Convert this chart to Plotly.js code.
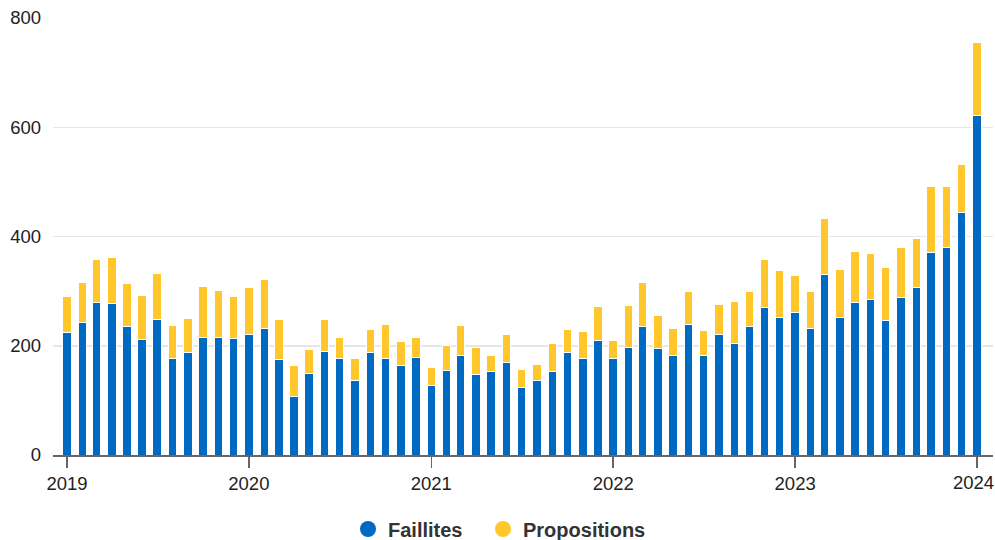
<!DOCTYPE html>
<html>
<head>
<meta charset="utf-8">
<script src="https://cdn.plot.ly/plotly-3.0.1.min.js"></script>
<style>html,body{margin:0;padding:0;background:#fff;}#chart{width:995px;height:540px;}</style>
</head>
<body>
<div id="chart"></div>
<script>
const months = [
  '2019-01-01','2019-02-01','2019-03-01','2019-04-01','2019-05-01','2019-06-01','2019-07-01','2019-08-01','2019-09-01','2019-10-01','2019-11-01','2019-12-01',
  '2020-01-01','2020-02-01','2020-03-01','2020-04-01','2020-05-01','2020-06-01','2020-07-01','2020-08-01','2020-09-01','2020-10-01','2020-11-01','2020-12-01',
  '2021-01-01','2021-02-01','2021-03-01','2021-04-01','2021-05-01','2021-06-01','2021-07-01','2021-08-01','2021-09-01','2021-10-01','2021-11-01','2021-12-01',
  '2022-01-01','2022-02-01','2022-03-01','2022-04-01','2022-05-01','2022-06-01','2022-07-01','2022-08-01','2022-09-01','2022-10-01','2022-11-01','2022-12-01',
  '2023-01-01','2023-02-01','2023-03-01','2023-04-01','2023-05-01','2023-06-01','2023-07-01','2023-08-01','2023-09-01','2023-10-01','2023-11-01','2023-12-01',
  '2024-01-01'
];
const faillites = [
  224,242,280,277,235,211,248,177,187,216,216,213,
  221,231,174,108,150,189,176,136,188,176,164,178,
  128,155,183,147,152,170,123,136,152,187,176,210,
  176,197,236,195,183,239,183,220,205,236,270,252,
  260,231,330,252,279,284,246,288,306,370,380,444,
  621
];
const propositions = [
  66,74,78,84,79,81,85,60,63,92,85,77,
  85,91,74,55,43,59,40,40,42,62,44,38,
  32,45,54,50,31,51,34,30,53,42,50,61,
  34,77,80,60,48,61,45,56,76,64,88,85,
  69,69,103,88,93,85,97,92,90,121,111,88,
  135
];
const seriesNames = ['Faillites','Propositions'];
const colors = ['#0069c2','#ffc72c'];
const yearTicks = ['2019-01-01','2020-01-01','2021-01-01','2022-01-01','2023-01-01','2024-01-01'];
const yearLabels = ['2019','2020','2021','2022','2023','2024'];

const barWidth = 17*24*3600*1000;
const data = [
  {type:'bar', x:months, y:faillites, name:seriesNames[0], showlegend:false,
   width:barWidth, marker:{color:colors[0], line:{color:'#ffffff', width:1}}, hoverinfo:'x+y'},
  {type:'bar', x:months, y:propositions, name:seriesNames[1], showlegend:false,
   width:barWidth, marker:{color:colors[1], line:{color:'#ffffff', width:1}}, hoverinfo:'x+y'},
  {type:'scatter', mode:'markers', x:[null], y:[null], name:seriesNames[0], legendwidth:90,
   marker:{symbol:'circle', size:20, color:colors[0]}},
  {type:'scatter', mode:'markers', x:[null], y:[null], name:seriesNames[1],
   marker:{symbol:'circle', size:20, color:colors[1]}}
];

// last tick label is nudged left so it stays inside the page, as in the reference
const lastIdx = yearLabels.length - 1;
const tickText = yearLabels.map((t, i) => i === lastIdx ? '' : t);

const layout = {
  width:995, height:540,
  barmode:'stack',
  paper_bgcolor:'#fff', plot_bgcolor:'#fff',
  font:{family:'"Liberation Sans", Arial, sans-serif', size:18, color:'#222'},
  margin:{l:53, r:2, t:18, b:84.5},
  xaxis:{
    type:'date', range:['2018-12-04','2024-02-02'],
    tickmode:'array', tickvals:yearTicks, ticktext:tickText,
    ticks:'outside', ticklen:11, tickwidth:1.5, tickcolor:'#666',
    showline:true, linecolor:'#666', linewidth:1.5,
    showgrid:false, zeroline:false, layer:'below traces',
    tickfont:{size:18.5, color:'#222'}
  },
  yaxis:{
    range:[0,800], tickvals:[0,200,400,600,800],
    showgrid:true, gridcolor:'#e6e6e6', gridwidth:1.5,
    zeroline:false, showline:false, ticks:'', ticklabelstandoff:11,
    tickfont:{size:18.5, color:'#222'}
  },
  annotations:[{
    xref:'x', yref:'paper', x:yearTicks[lastIdx], y:0, yanchor:'top', xanchor:'center',
    text:yearLabels[lastIdx], showarrow:false, xshift:-4, yshift:-15,
    font:{size:18.5, color:'#222'}
  }],
  legend:{orientation:'h', xref:'container', yref:'container', x:0.502, xanchor:'center',
    y:0.0204, yanchor:'middle', traceorder:'normal',
    font:{size:20, color:'#333', weight:'bold'}, itemsizing:'trace'},
  showlegend:true
};

Plotly.newPlot('chart', data, layout, {displayModeBar:false, staticPlot:true});
</script>
</body>
</html>
